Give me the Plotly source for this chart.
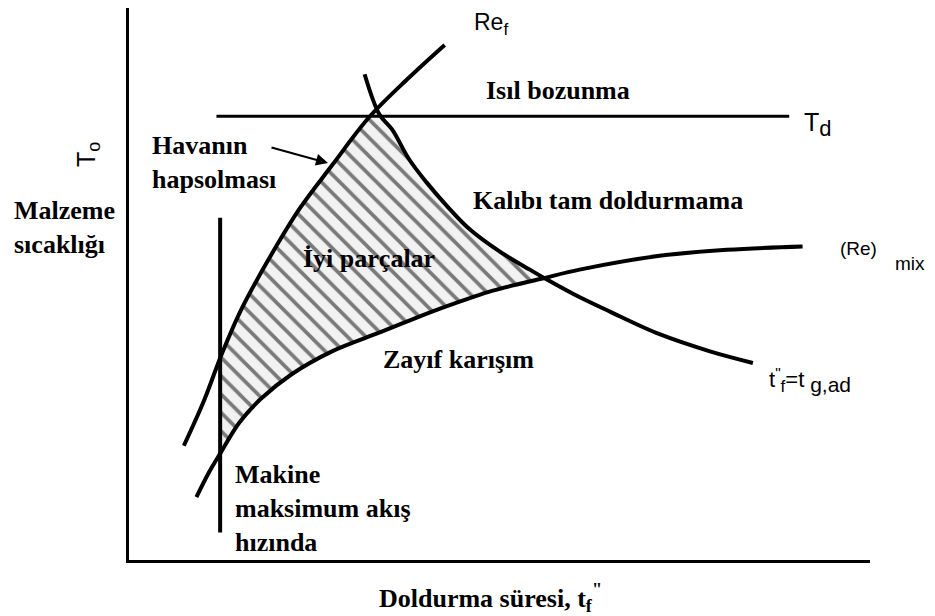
import numpy as np
import plotly.graph_objects as go

# ---- data (schematic, axis units 0-100) ----
ref_x = [7.4, 10.1, 12.4, 14.9, 18.9, 23.0, 27.4, 32.4, 37.8, 42.6]
ref_y = [20.7, 28.8, 36.9, 44.7, 54.6, 63.6, 71.5, 80.2, 87.4, 93.3]

tf_x = [31.8, 33.8, 35.5, 37.8, 40.1, 42.8, 45.9, 50.0, 54.1, 56.4, 60.1, 64.9, 71.6, 78.4, 84.2]
tf_y = [88.0, 80.7, 78.0, 72.6, 68.5, 64.3, 60.0, 55.9, 52.6, 50.8, 48.1, 45.0, 40.9, 37.8, 35.7]

mix_x = [9.1, 10.8, 12.4, 14.9, 17.8, 22.0, 27.4, 34.2, 40.9, 45.9, 49.1, 55.8, 60.8, 71.6, 80.7, 90.9]
mix_y = [11.4, 15.9, 19.5, 24.9, 29.2, 33.7, 37.8, 41.4, 45.0, 47.4, 48.8, 51.0, 52.6, 55.1, 56.2, 56.8]

machine_x = [12.3, 12.3]
machine_y = [5.0, 62.0]

td_x = [11.8, 89.1]
td_y = [80.4, 80.4]

# ---- hatched region (good parts) computed from the curves ----
x_left = machine_x[0]
grid = np.linspace(x_left, 70, 2000)
upper = np.minimum(np.interp(grid, ref_x, ref_y), np.interp(grid, tf_x, tf_y))
lower = np.interp(grid, mix_x, mix_y)
idx = np.where(upper > lower)[0]
grid, upper, lower = grid[idx], upper[idx], lower[idx]
poly_x = np.concatenate([grid, grid[::-1], grid[:1]])
poly_y = np.concatenate([upper, lower[::-1], upper[:1]])

# page has an 8px body margin: figure occupies screen pixels 8..935 / 8..616
OFF = 8
W, H = 935 - OFF, 616 - OFF
L, R, T, B = 129 - OFF, 65, 0, 56
PW, PH = W - L - R, H - T - B


def P(px, py):
    # screen pixel -> paper coordinates
    fx, fy = px - OFF, py - OFF
    return (fx - L) / PW, (H - B - fy) / PH


fig = go.Figure()

fig.add_trace(go.Scatter(
    x=poly_x, y=poly_y, mode="lines", fill="toself",
    line=dict(width=0, color="rgba(0,0,0,0)"),
    fillcolor="#f2f2f2",
    fillpattern=dict(shape="\\", fgcolor="black", bgcolor="#f2f2f2", size=13, solidity=0.28),
    hoverinfo="skip", showlegend=False))

line_style = dict(color="black", width=4)
fig.add_trace(go.Scatter(x=ref_x, y=ref_y, mode="lines", line=dict(line_style, shape="spline"), showlegend=False))
fig.add_trace(go.Scatter(x=tf_x, y=tf_y, mode="lines", line=dict(line_style, shape="spline"), showlegend=False))
fig.add_trace(go.Scatter(x=mix_x, y=mix_y, mode="lines", line=dict(line_style, shape="spline"), showlegend=False))
fig.add_trace(go.Scatter(x=machine_x, y=machine_y, mode="lines", line=line_style, showlegend=False))
fig.add_trace(go.Scatter(x=td_x, y=td_y, mode="lines", line=dict(color="black", width=3), showlegend=False))

SERIF = "Liberation Serif"
SANS = "Liberation Sans"
ann = []


def text(px, py, s, family=SERIF, size=26, bold=True, xanchor="left", angle=0, align="left"):
    xp, yp = P(px, py)
    ann.append(dict(x=xp, y=yp, xref="paper", yref="paper", text=(f"<b>{s}</b>" if bold else s),
                    showarrow=False, xanchor=xanchor, yanchor="middle", align=align, textangle=angle,
                    font=dict(family=family, size=size, color="black")))


text(472, 24, "Re<sub><span style='font-size:17px'>f</span></sub>", SANS, 23, False)
text(484, 90, "Isıl bozunma")
text(802, 124, "T<sub><span style='font-size:22px'>d</span></sub>", SANS, 25, False)
text(150, 162, "Havanın<br>hapsolması")
text(12, 227, "Malzeme<br>sıcaklığı")
text(88, 155, "T<sub><span style='font-size:18px'>o</span></sub>", SANS, 25, False, xanchor="center", angle=-90)
text(471, 200, "Kalıbı tam doldurmama")
text(301, 258, "İyi parçalar")
text(838, 248, "(Re)", SANS, 19, False)
text(893, 263, "mix", SANS, 19, False)
text(381, 359, "Zayıf karışım")
text(767, 380, "t<sup>\"</sup><sub><span style='font-size:17px'>f</span></sub>=t<sub><span style='font-size:21px'> g,ad</span></sub>", SANS, 22, False)
text(233, 508, "Makine<br>maksimum akış<br>hızında")
text(490, 598, "Doldurma süresi, t<sub>f</sub><sup>\"</sup>", xanchor="center")

hx, hy = P(328, 163)
ann.append(dict(x=hx, y=hy, xref="paper", yref="paper", text="", showarrow=True,
                ax=-58, ay=-16, arrowhead=2, arrowsize=1.2, arrowwidth=2, arrowcolor="black"))

fig.update_layout(
    width=W, height=H, margin=dict(l=L, r=R, t=T, b=B, pad=0),
    paper_bgcolor="white", plot_bgcolor="white",
    annotations=ann,
    xaxis=dict(range=[0, 100], showline=True, linewidth=3, linecolor="black", mirror=False,
               showticklabels=False, ticks="", showgrid=False, zeroline=False, fixedrange=True),
    yaxis=dict(range=[0, 100], showline=True, linewidth=3, linecolor="black", mirror=False,
               showticklabels=False, ticks="", showgrid=False, zeroline=False, fixedrange=True),
)

fig.write_html("out.html")
